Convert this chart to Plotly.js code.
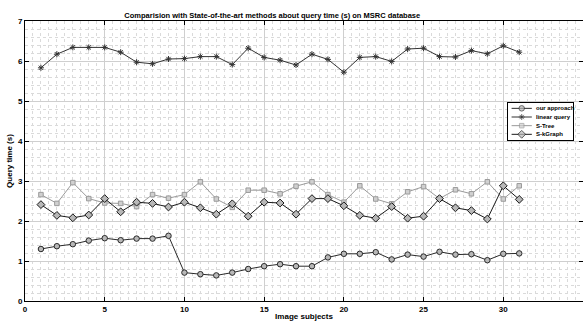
<!DOCTYPE html>
<html>
<head>
<meta charset="utf-8">
<script src="https://cdn.plot.ly/plotly-3.0.1.min.js"></script>
<style>html,body{margin:0;padding:0;background:#fff;}#chart{width:583px;height:321px;}</style>
</head>
<body>
<div id="chart"></div>
<script>
const subjects = [1,2,3,4,5,6,7,8,9,10,11,12,13,14,15,16,17,18,19,20,21,22,23,24,25,26,27,28,29,30,31];
const ourApproach = [1.30,1.37,1.42,1.51,1.57,1.52,1.56,1.56,1.63,0.71,0.67,0.64,0.71,0.80,0.87,0.92,0.87,0.87,1.09,1.18,1.18,1.22,1.04,1.16,1.11,1.23,1.16,1.17,1.02,1.18,1.19];
const linearQuery = [5.83,6.17,6.34,6.34,6.34,6.22,5.97,5.93,6.05,6.06,6.11,6.11,5.91,6.32,6.09,6.02,5.90,6.17,6.04,5.72,6.09,6.11,5.99,6.30,6.32,6.11,6.10,6.26,6.18,6.38,6.22];
const sTree = [2.66,2.44,2.96,2.56,2.45,2.44,2.36,2.66,2.57,2.66,2.98,2.55,2.34,2.77,2.77,2.68,2.87,2.98,2.66,2.47,2.88,2.55,2.43,2.73,2.86,2.56,2.78,2.68,2.98,2.55,2.88];
const sKGraph = [2.41,2.14,2.08,2.15,2.56,2.23,2.47,2.44,2.35,2.47,2.33,2.17,2.43,2.12,2.47,2.45,2.17,2.56,2.56,2.38,2.14,2.07,2.36,2.07,2.12,2.56,2.33,2.26,2.05,2.88,2.54];
const seriesNames = ['our approach','linear query','S-Tree','S-kGraph'];

const FONT = 'Liberation Sans, Arial, sans-serif';
const styles = [
  {line: {color: '#2a2a2a', width: 1}, marker: {symbol: 'circle', size: 5.5, color: '#b8b8b8', line: {color: '#2a2a2a', width: 1}}},
  {line: {color: '#333333', width: 1}, marker: {symbol: 'asterisk-open', size: 5, color: '#333333', line: {color: '#333333', width: 1}}},
  {line: {color: '#9a9a9a', width: 1}, marker: {symbol: 'square', size: 4.5, color: '#d0d0d0', line: {color: '#9a9a9a', width: 1}}},
  {line: {color: '#1a1a1a', width: 1}, marker: {symbol: 'diamond', size: 6, color: '#b8b8b8', line: {color: '#1a1a1a', width: 1}}}
];
const seriesData = [ourApproach, linearQuery, sTree, sKGraph];

const traces = seriesData.map((vals, i) => ({
  x: subjects, y: vals, name: seriesNames[i], mode: 'lines+markers',
  line: styles[i].line, marker: styles[i].marker, showlegend: false, xaxis: 'x', yaxis: 'y'
}));

// custom compact legend drawn on an overlay box axis (x2/y2, range 0..1 by 0..4)
const legendAnnotations = [];
seriesNames.forEach((name, i) => {
  const row = 3.4 - 0.93 * i;
  const m = Object.assign({}, styles[i].marker, {size: [0, styles[i].marker.size, 0]});
  traces.push({x: [0.06, 0.215, 0.37], y: [row, row, row], mode: 'lines+markers',
    line: styles[i].line, marker: m, showlegend: false, xaxis: 'x2', yaxis: 'y2', hoverinfo: 'skip'});
  legendAnnotations.push({x: 0.41, y: row, xref: 'x2', yref: 'y2', xanchor: 'left', yanchor: 'middle',
    text: '<b>' + name + '</b>', showarrow: false, font: {family: FONT, size: 6, color: '#000'}});
});

const axisFont = {family: FONT, size: 8, color: '#000', weight: 'bold'};
const layout = {
  width: 583, height: 321,
  margin: {l: 25, r: 0, t: 21, b: 20},
  paper_bgcolor: '#fff', plot_bgcolor: '#fff',
  showlegend: false,
  title: {text: '<b>Comparision with State-of-the-art methods about query time (s) on MSRC database</b>',
          font: {family: FONT, size: 7.5, color: '#000'},
          x: 0.467, xref: 'container', xanchor: 'center', y: 0.953, yref: 'container', yanchor: 'middle'},
  xaxis: {range: [0, 35], dtick: 5, tick0: 0, showgrid: true, gridcolor: '#cfcfcf', gridwidth: 1,
          zeroline: false, showline: true, linecolor: '#000', linewidth: 1, mirror: 'ticks', automargin: false,
          ticks: 'inside', ticklen: 4, tickcolor: '#000', tickfont: axisFont,
          minor: {dtick: 0.5, showgrid: true, gridcolor: '#dadada', griddash: 'dot', gridwidth: 1},
          title: {text: '<b>Image subjects</b>', font: {family: FONT, size: 8, color: '#000'}, standoff: 2}},
  yaxis: {range: [0, 7], dtick: 1, tick0: 0, showgrid: true, gridcolor: '#cfcfcf', gridwidth: 1,
          zeroline: false, showline: true, linecolor: '#000', linewidth: 1, mirror: 'ticks', automargin: false,
          ticks: 'inside', ticklen: 4, tickcolor: '#000', tickfont: axisFont,
          minor: {dtick: 0.2, showgrid: true, gridcolor: '#dadada', griddash: 'dot', gridwidth: 1},
          title: {text: '<b>Query time (s)</b>', font: {family: FONT, size: 8, color: '#000'}, standoff: 4}},
  xaxis2: {domain: [0.865, 0.982], range: [0, 1], anchor: 'y2', showgrid: false, zeroline: false,
           showticklabels: false, ticks: '', showline: true, mirror: true, linecolor: '#000', linewidth: 1, fixedrange: true},
  yaxis2: {domain: [0.575, 0.708], range: [0, 4], anchor: 'x2', showgrid: false, zeroline: false,
           showticklabels: false, ticks: '', showline: true, mirror: true, linecolor: '#000', linewidth: 1, fixedrange: true},
  shapes: [{type: 'rect', xref: 'x2', yref: 'y2', x0: 0, x1: 1, y0: 0, y1: 4, layer: 'below',
            fillcolor: '#fff', line: {width: 0}}],
  annotations: legendAnnotations
};

Plotly.newPlot('chart', traces, layout, {displayModeBar: false, staticPlot: true});
</script>
</body>
</html>
